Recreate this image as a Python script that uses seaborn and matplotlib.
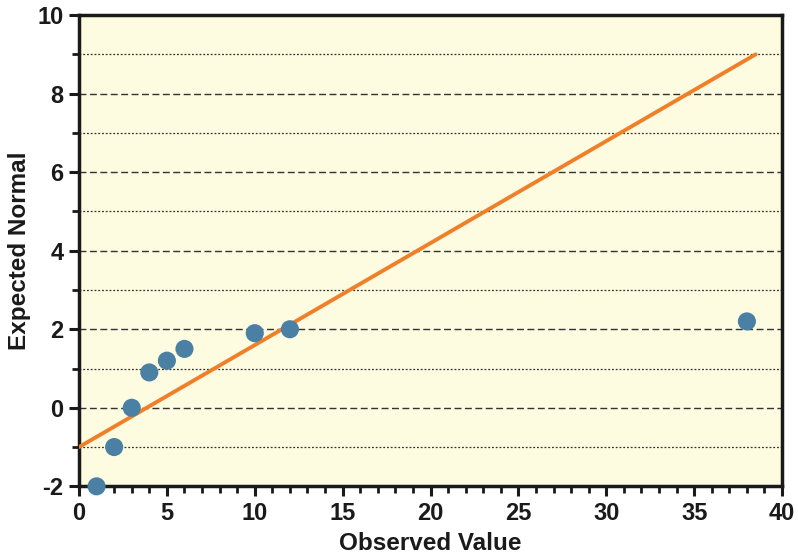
import numpy as np
import pandas as pd
import matplotlib
matplotlib.use("Agg")
import matplotlib.pyplot as plt
import seaborn as sns
from matplotlib.ticker import MultipleLocator

# Data
observed = [1, 2, 3, 4, 5, 6, 10, 12, 38]
expected = [-2.0, -1.0, 0.0, 0.9, 1.2, 1.5, 1.9, 2.0, 2.2]
line_x = [0, 38.5]
line_y = [-1.0, 9.0]

df = pd.DataFrame({"observed": observed, "expected": expected})
fit = pd.DataFrame({"x": line_x, "y": line_y})

sns.set_style("ticks")
plt.rcParams["font.family"] = ["Liberation Sans", "DejaVu Sans"]
plt.rcParams["font.weight"] = "bold"
plt.rcParams["axes.unicode_minus"] = False

fig, ax = plt.subplots(figsize=(7.98, 5.59), dpi=100)
fig.subplots_adjust(left=0.099, right=0.98, top=0.973, bottom=0.13)
ax.set_facecolor("#fdfbe0")

# Grid lines
for v in range(-1, 10, 2):
    ax.axhline(v, color="#333333", lw=0.9, ls=(0, (1.5, 1.5)), zorder=1)
for v in range(0, 10, 2):
    ax.axhline(v, color="#333333", lw=1.0, ls=(0, (5, 2.5)), zorder=1)

sns.lineplot(data=fit, x="x", y="y", ax=ax, color="#f07f2a", lw=2.8, zorder=3)
sns.scatterplot(data=df, x="observed", y="expected", ax=ax, color="#4a80a3",
                s=170, edgecolor="none", zorder=4, clip_on=False)

ax.set_xlim(0, 40)
ax.set_ylim(-2, 10)
ax.xaxis.set_major_locator(MultipleLocator(5))
ax.xaxis.set_minor_locator(MultipleLocator(1))
ax.yaxis.set_major_locator(MultipleLocator(2))
ax.yaxis.set_minor_locator(MultipleLocator(1))

for side in ["left", "bottom", "top", "right"]:
    ax.spines[side].set_linewidth(2.5)
    ax.spines[side].set_color("#1a1a1a")
ax.tick_params(which="major", direction="out", length=7, width=2.2,
               labelsize=17, color="#1a1a1a", labelcolor="#1a1a1a", pad=4)
ax.tick_params(which="minor", direction="out", length=5, width=2,
               color="#1a1a1a")
for lab in ax.get_xticklabels() + ax.get_yticklabels():
    lab.set_fontweight("bold")

ax.set_xlabel("Observed Value", fontsize=17.5, fontweight="bold", labelpad=5,
              color="#1a1a1a")
ax.set_ylabel("Expected Normal", fontsize=17.5, fontweight="bold", labelpad=5,
              color="#1a1a1a")

fig.savefig("out.png", dpi=100, facecolor="white")
